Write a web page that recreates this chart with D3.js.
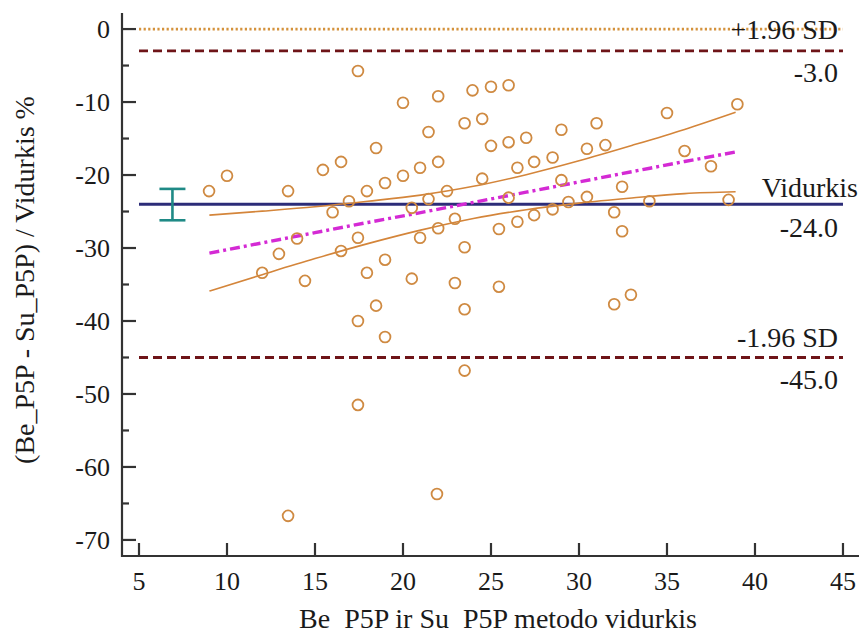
<!DOCTYPE html>
<html><head><meta charset="utf-8">
<script src="https://cdn.jsdelivr.net/npm/d3@7"></script>
<style>body{margin:0;background:#fff}svg{display:block}</style>
</head><body>
<svg id="c" width="859" height="637"></svg>
<script>
// Data
const pointsX = [8.98,10.0,12.0,12.95,13.47,13.98,14.43,13.47,15.45,16.0,16.48,16.48,16.93,17.44,17.44,17.44,17.44,17.95,17.95,18.47,18.47,18.98,18.98,18.98,20.0,20.0,20.5,20.5,20.97,20.97,21.45,21.45,21.93,22.0,22.0,22.0,22.5,22.95,22.95,23.5,23.5,23.5,23.5,23.95,24.5,24.5,25.0,25.0,25.45,25.45,26.0,26.0,26.0,26.5,26.5,27.0,27.45,27.45,28.5,28.5,29.0,29.0,29.4,30.45,30.45,31.0,31.5,32.0,32.0,32.45,32.45,32.95,34.0,35.0,36.0,37.5,38.5,39.0];
const pointsY = [-22.2,-20.1,-33.4,-30.8,-22.2,-28.7,-34.5,-66.7,-19.3,-25.1,-18.2,-30.4,-23.6,-5.75,-28.6,-40.0,-51.5,-22.2,-33.4,-16.3,-37.9,-21.1,-31.6,-42.2,-10.1,-20.1,-24.5,-34.2,-19.0,-28.6,-14.1,-23.3,-63.7,-9.2,-18.2,-27.3,-22.2,-26.0,-34.8,-12.9,-29.9,-38.4,-46.8,-8.4,-12.3,-20.5,-7.9,-16.0,-27.4,-35.3,-7.7,-15.5,-23.1,-19.0,-26.4,-14.9,-18.2,-25.5,-17.6,-24.7,-13.8,-20.7,-23.7,-16.4,-23.0,-12.9,-15.9,-25.1,-37.7,-21.6,-27.7,-36.4,-23.6,-11.5,-16.7,-18.8,-23.4,-10.3];

const fitX   = [9,12,15,18,21,24,27,30,33,36,38.9];
const fitY   = [-30.7,-29.3,-27.9,-26.5,-25.15,-23.75,-22.35,-20.95,-19.55,-18.15,-16.85];
const upperY = [-25.5,-24.95,-24.35,-23.6,-22.75,-21.55,-19.95,-18.05,-15.95,-13.75,-11.4];
const lowerY = [-35.9,-33.65,-31.45,-29.4,-27.55,-25.95,-24.75,-23.85,-23.15,-22.55,-22.3];

const meanValue = -24.0;
const upperLimit = -3.0;
const lowerLimit = -45.0;
const zeroValue = 0;
const meanCI = {x: 6.9, hi: -21.9, lo: -26.2};

const xTicks = [5,10,15,20,25,30,35,40,45];
const yTicks = [0,-10,-20,-30,-40,-50,-60,-70];
const yMinorTicks = [-5,-15,-25,-35,-45,-55,-65];
const xTitle = "Be\u2002P5P ir Su\u2002P5P metodo vidurkis";
const yTitle = "(Be_P5P - Su_P5P) / Vidurkis %";

const FONT = "'Liberation Serif', Tinos, 'Times New Roman', Times, 'DejaVu Serif', serif";
const svg = d3.select("#c");
const x = d3.scaleLinear().domain([4.034, 45.91]).range([122, 859]);
const y = d3.scaleLinear().domain([2.2, -72.2]).range([13, 556]);
const X0 = 122, Y0 = 556;

// reference lines
const hline = (v, color, w, dash) => svg.append("line")
  .attr("x1", x(5)).attr("x2", x(45)).attr("y1", y(v)).attr("y2", y(v))
  .attr("stroke", color).attr("stroke-width", w).attr("stroke-dasharray", dash);
hline(zeroValue, "#d4923c", 2.8, "2.2,2.4");
hline(upperLimit, "#6e1418", 2.8, "9,5");
hline(lowerLimit, "#6e1418", 2.8, "9,5");
hline(meanValue, "#2c2c78", 3, null);

// CI band lines
const ln = d3.line().x(d => x(d[0])).y(d => y(d[1])).curve(d3.curveMonotoneX);
svg.append("path").attr("d", ln(fitX.map((v,i)=>[v, upperY[i]]))).attr("fill","none").attr("stroke","#d4853a").attr("stroke-width",1.6);
svg.append("path").attr("d", ln(fitX.map((v,i)=>[v, lowerY[i]]))).attr("fill","none").attr("stroke","#d4853a").attr("stroke-width",1.6);
svg.append("path").attr("d", ln(fitX.map((v,i)=>[v, fitY[i]]))).attr("fill","none").attr("stroke","#d42ad4").attr("stroke-width",3.4).attr("stroke-dasharray","10,4,3,4");

// points
svg.append("g").selectAll("circle").data(pointsX.map((v,i)=>[v, pointsY[i]])).join("circle")
  .attr("cx", d => x(d[0])).attr("cy", d => y(d[1])).attr("r", 5.4)
  .attr("fill","none").attr("stroke","#cf8a42").attr("stroke-width",1.8);

// mean CI error bar
const eb = svg.append("g").attr("stroke","#1f8a86").attr("stroke-width",2.6);
eb.append("line").attr("x1",x(meanCI.x)).attr("x2",x(meanCI.x)).attr("y1",y(meanCI.hi)).attr("y2",y(meanCI.lo));
eb.append("line").attr("x1",x(meanCI.x)-13).attr("x2",x(meanCI.x)+13).attr("y1",y(meanCI.hi)).attr("y2",y(meanCI.hi));
eb.append("line").attr("x1",x(meanCI.x)-13).attr("x2",x(meanCI.x)+13).attr("y1",y(meanCI.lo)).attr("y2",y(meanCI.lo));

// axes
const ax = svg.append("g").attr("stroke","#333").attr("stroke-width",2.2);
ax.append("line").attr("x1",X0).attr("x2",X0).attr("y1",13).attr("y2",Y0+1);
ax.append("line").attr("x1",X0-1).attr("x2",859).attr("y1",Y0).attr("y2",Y0);
yTicks.forEach(t => ax.append("line").attr("x1",X0).attr("x2",X0+14).attr("y1",y(t)).attr("y2",y(t)));
yMinorTicks.forEach(t => ax.append("line").attr("x1",X0).attr("x2",X0+7).attr("y1",y(t)).attr("y2",y(t)));
xTicks.forEach(t => ax.append("line").attr("x1",x(t)).attr("x2",x(t)).attr("y1",Y0).attr("y2",Y0-13));

const txt = sel => sel.style("font-family", FONT, "important").attr("fill", "#1a1a1a");

svg.append("g").selectAll("text").data(yTicks).join("text").call(txt)
  .attr("x", 110).attr("y", d => y(d)).attr("dy","0.35em").attr("text-anchor","end")
  .attr("font-size", 26).text(d => d3.format("d")(d).replace("−","-"));
svg.append("g").selectAll("text").data(xTicks).join("text").call(txt)
  .attr("x", d => x(d)).attr("y", 590).attr("text-anchor","middle")
  .attr("font-size", 26).text(d => d);

svg.append("text").call(txt).attr("x", 498).attr("y", 628).attr("text-anchor","middle").attr("font-size",28).text(xTitle);
svg.append("text").call(txt).attr("transform","translate(34,280) rotate(-90)").attr("text-anchor","middle").attr("font-size",28).text(yTitle);

// right labels
const lab = (s, xx, yy) => svg.append("text").call(txt).attr("x", xx).attr("y", yy).attr("text-anchor","end").attr("font-size",28).text(s);
lab("+1.96 SD", 838, y(upperLimit) - 12);
lab(d3.format(".1f")(upperLimit).replace("−","-"), 838, y(upperLimit) + 31);
lab("Vidurkis", 858, y(meanValue) - 7);
lab(d3.format(".1f")(meanValue).replace("−","-"), 838, y(meanValue) + 33);
lab("-1.96 SD", 838, y(lowerLimit) - 10);
lab(d3.format(".1f")(lowerLimit).replace("−","-"), 838, y(lowerLimit) + 32);
</script>
</body></html>
